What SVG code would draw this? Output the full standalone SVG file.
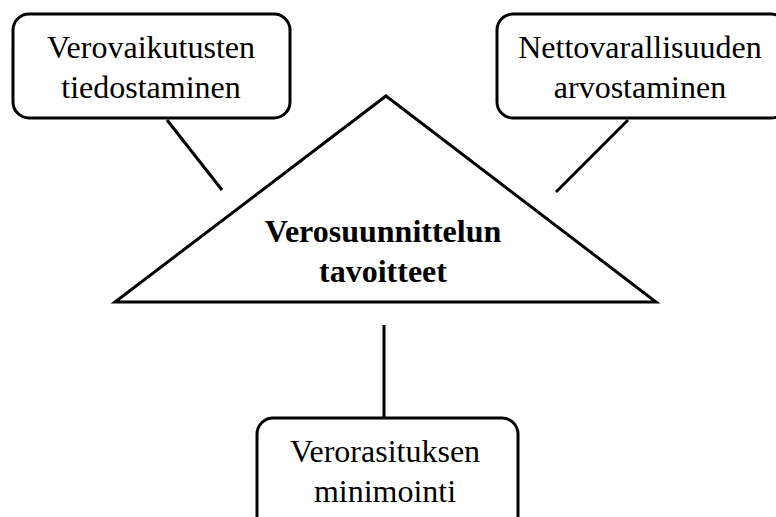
<svg xmlns="http://www.w3.org/2000/svg" width="776" height="517" viewBox="0 0 776 517">
  <style>
    .box { fill: #ffffff; stroke: #000000; stroke-width: 3; }
    .tri { fill: #ffffff; stroke: #000000; stroke-width: 3; stroke-linejoin: miter; }
    .link { stroke: #000000; stroke-width: 3; fill: none; }
    .label { font-family: 'Liberation Serif', serif; font-size: 32px; fill: #000000; text-anchor: middle; }
    .title { font-family: 'Liberation Serif', serif; font-size: 32px; font-weight: bold; fill: #000000; text-anchor: middle; }
  </style>
  <rect width="776" height="517" fill="#ffffff"/>

  <!-- connectors from each goal to the central triangle -->
  <g id="connectors">
    <line class="link" x1="167" y1="120" x2="222" y2="190"/>
    <line class="link" x1="628" y1="120" x2="556" y2="192"/>
    <line class="link" x1="384" y1="325" x2="384" y2="418"/>
  </g>

  <g id="center">
    <polygon class="tri" points="386,96 656,302 115,302"/>
    <text class="title" x="383" y="242">Verosuunnittelun</text>
    <text class="title" x="383" y="282">tavoitteet</text>
  </g>

  <g id="goal-left">
    <rect class="box" x="13" y="14" width="277" height="104" rx="16"/>
    <text class="label" x="151" y="58">Verovaikutusten</text>
    <text class="label" x="151" y="98">tiedostaminen</text>
  </g>

  <g id="goal-right">
    <rect class="box" x="497" y="14" width="290" height="104" rx="16"/>
    <text class="label" x="640" y="58">Nettovarallisuuden</text>
    <text class="label" x="640" y="98">arvostaminen</text>
  </g>

  <g id="goal-bottom">
    <rect class="box" x="257" y="418" width="261" height="120" rx="16"/>
    <text class="label" x="385" y="462">Verorasituksen</text>
    <text class="label" x="385" y="502">minimointi</text>
  </g>
</svg>
